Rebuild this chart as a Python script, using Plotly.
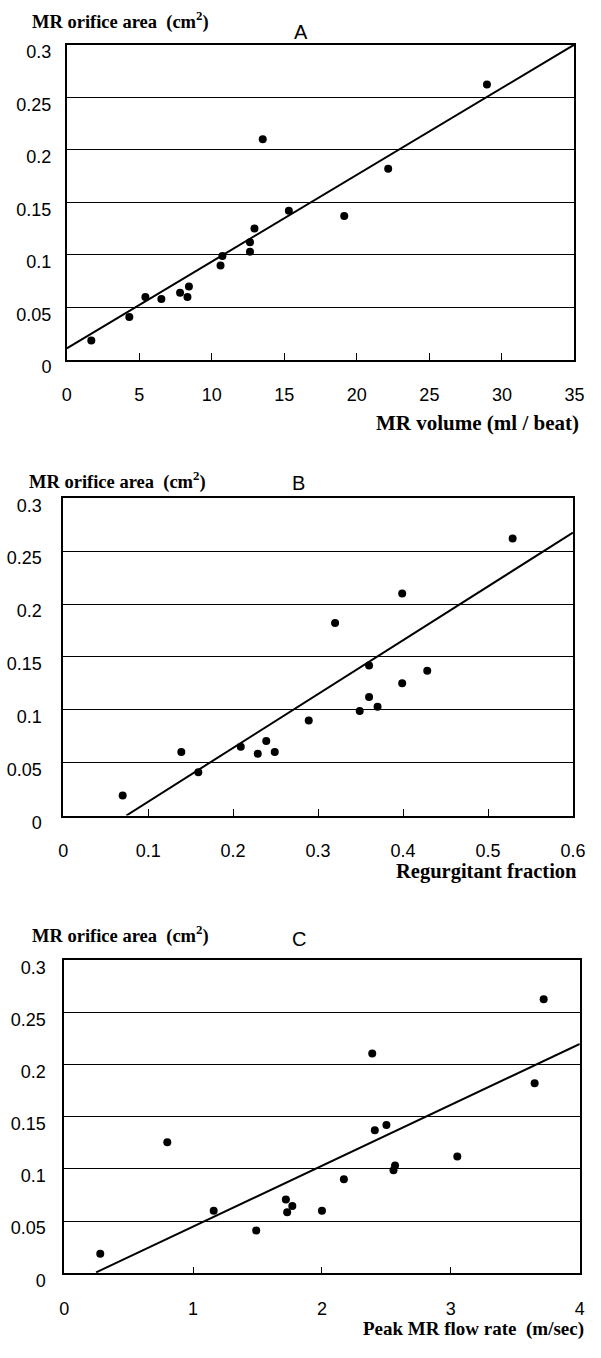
import plotly.graph_objects as go

W, H = 601, 1358

# ---------------- data ----------------
area_a = [0.0185, 0.041, 0.060, 0.058, 0.064, 0.060, 0.070, 0.090, 0.099,
          0.103, 0.112, 0.125, 0.210, 0.142, 0.137, 0.182, 0.262]
mr_volume = [1.69, 4.31, 5.42, 6.52, 7.81, 8.32, 8.42, 10.6, 10.73,
             12.63, 12.63, 12.94, 13.51, 15.31, 19.13, 22.16, 28.97]

regurgitant_fraction = [0.070, 0.139, 0.159, 0.209, 0.229, 0.239, 0.249, 0.289, 0.320,
                        0.349, 0.360, 0.360, 0.370, 0.399, 0.399, 0.4285, 0.529]
area_b = [0.019, 0.060, 0.041, 0.065, 0.0585, 0.0706, 0.060, 0.0898, 0.182,
          0.0988, 0.142, 0.112, 0.103, 0.210, 0.125, 0.137, 0.262]

peak_flow = [0.28, 0.80, 1.16, 1.49, 1.72, 1.73, 1.77, 2.00, 2.17,
             2.39, 2.41, 2.50, 2.555, 2.567, 3.05, 3.65, 3.72]
area_c = [0.0187, 0.1255, 0.060, 0.041, 0.0707, 0.0586, 0.0645, 0.060, 0.090,
          0.2106, 0.137, 0.142, 0.0988, 0.1034, 0.112, 0.182, 0.2626]

# regression lines: intercept, slope, x extent
fit_intercept = [0.011, -0.0378, -0.0135]
fit_slope = [0.00826, 0.509, 0.0583]
fit_x_start = [0.0, 0.0743, 0.248]
fit_x_end = [35.0, 0.6, 4.0]

x_ranges = [[0, 35], [0, 0.6], [0, 4]]
x_dticks = [5, 0.1, 1]
y_ticks = [0, 0.05, 0.1, 0.15, 0.2, 0.25, 0.3]
y_ticklabels = ["0", "0.05", "0.1", "0.15", "0.2", "0.25", "0.3"]
panel_letters = ["A", "B", "C"]
x_titles = ["MR volume (ml / beat)", "Regurgitant fraction", "Peak MR flow rate\u00a0\u00a0(m/sec)"]
y_title = "MR orifice area\u00a0\u00a0(cm<sup>2</sup>)"

xs = [mr_volume, regurgitant_fraction, peak_flow]
ys = [area_a, area_b, area_c]

# ---------------- layout (pixel boxes) ----------------
boxes = [  # left, right, top, bottom
    (63.7, 587.0, 42.3, 362.3),
    (60.0, 585.5, 502.7, 824.7),
    (61.0, 592.5, 971.5, 1289.3),
]
y_standoff = [10, 16, 13]
ytitle_pos = [(26, 18), (23, 485), (26, 945)]
letter_pos = [(305, 29.5), (303, 487), (303, 950)]
xtitle_pos = [(594, 426), (592, 881), (599, 1346)]
xtitle_size = [21, 20.5, 19]

TICK_FONT = dict(family="Liberation Sans, Arial, sans-serif", size=18, color="black")
SERIF = "Liberation Serif, Times New Roman, serif"

fig = go.Figure()
annotations = []
for i in range(3):
    sfx = "" if i == 0 else str(i + 1)
    xa, ya = "x" + sfx, "y" + sfx
    fig.add_trace(go.Scatter(
        x=xs[i], y=ys[i], mode="markers", xaxis=xa, yaxis=ya,
        marker=dict(color="black", size=8), showlegend=False, cliponaxis=False))
    x0, x1 = fit_x_start[i], fit_x_end[i]
    fig.add_trace(go.Scatter(
        x=[x0, x1],
        y=[fit_intercept[i] + fit_slope[i] * x0, fit_intercept[i] + fit_slope[i] * x1],
        mode="lines", xaxis=xa, yaxis=ya,
        line=dict(color="black", width=2), showlegend=False))

    l, r, t, b = boxes[i]
    xdom = [l / W, r / W]
    ydom = [1 - b / H, 1 - t / H]
    fig.layout["xaxis" + sfx] = dict(
        domain=xdom, anchor=ya, range=x_ranges[i], dtick=x_dticks[i], tick0=0,
        showgrid=False, zeroline=False, showline=True, linecolor="black",
        linewidth=1.6, mirror=True, ticks="inside", ticklen=7, tickwidth=1,
        tickcolor="black", tickfont=TICK_FONT, ticklabelstandoff=18)
    fig.layout["yaxis" + sfx] = dict(
        domain=ydom, anchor=xa, range=[0, 0.3], tickvals=y_ticks,
        ticktext=y_ticklabels, showgrid=True, gridcolor="black", gridwidth=1,
        zeroline=False, showline=True, linecolor="black", linewidth=1.6,
        mirror=True, ticks="", tickfont=TICK_FONT, ticklabelshift=7,
        ticklabelstandoff=y_standoff[i])

    tx, ty = ytitle_pos[i]
    annotations.append(dict(
        text="<b>" + y_title + "</b>", x=tx / W, y=1 - ty / H, xref="paper",
        yref="paper", xanchor="left", yanchor="middle", showarrow=False,
        font=dict(family=SERIF, size=18.5, color="black")))
    lx, ly = letter_pos[i]
    annotations.append(dict(
        text=panel_letters[i], x=lx / W, y=1 - ly / H, xref="paper",
        yref="paper", xanchor="center", yanchor="middle", showarrow=False,
        font=dict(family="Liberation Sans, Arial, sans-serif", size=20, color="black")))
    qx, qy = xtitle_pos[i]
    annotations.append(dict(
        text="<b>" + x_titles[i] + "</b>", x=qx / W, y=1 - qy / H, xref="paper",
        yref="paper", xanchor="right", yanchor="middle", showarrow=False,
        font=dict(family=SERIF, size=xtitle_size[i], color="black")))

fig.update_layout(
    width=W, height=H, margin=dict(l=0, r=0, t=0, b=0),
    paper_bgcolor="white", plot_bgcolor="white", annotations=annotations,
    showlegend=False)

fig.write_html(
    "out.html",
    config={"displayModeBar": False},
    post_script=("document.documentElement.style.margin='0';"
                 "document.documentElement.style.overflow='hidden';"
                 "document.body.style.margin='0';"
                 "document.body.style.overflow='hidden';"))
